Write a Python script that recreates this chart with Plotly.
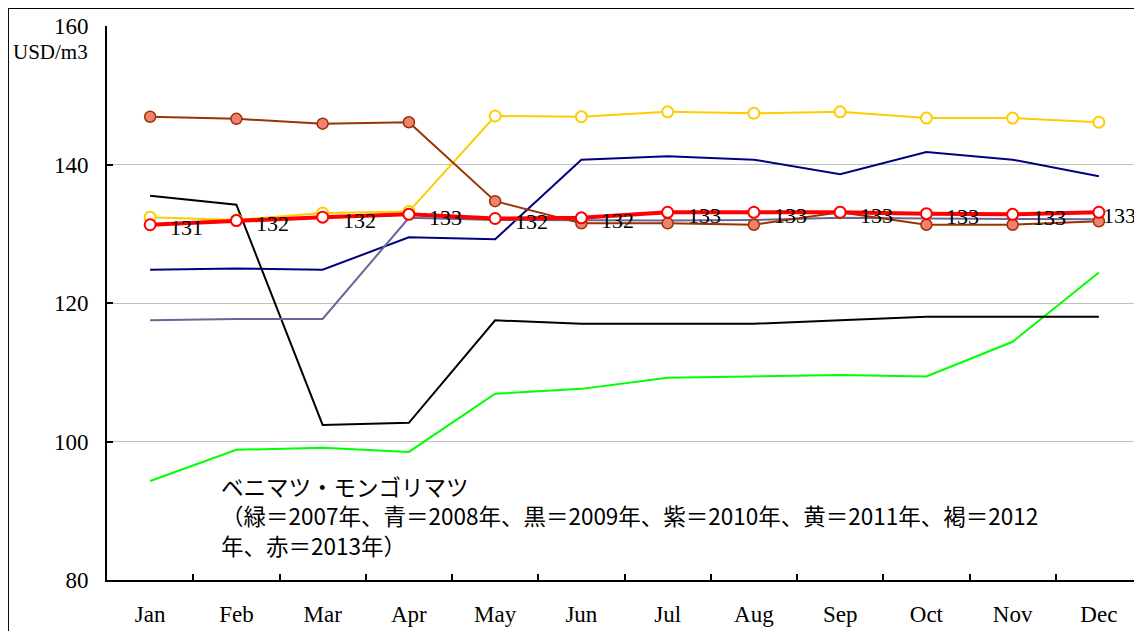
import plotly.graph_objects as go

months = ["Jan", "Feb", "Mar", "Apr", "May", "Jun", "Jul", "Aug", "Sep", "Oct", "Nov", "Dec"]

y2007 = [94.3, 98.8, 99.1, 98.5, 106.9, 107.6, 109.2, 109.4, 109.6, 109.4, 114.4, 124.4]
y2008 = [124.8, 125.0, 124.8, 129.5, 129.2, 140.7, 141.2, 140.7, 138.6, 141.8, 140.7, 138.3]
y2009 = [135.5, 134.2, 102.4, 102.7, 117.5, 117.0, 117.0, 117.0, 117.5, 118.0, 118.0, 118.0]
y2010 = [117.5, 117.7, 117.7, 132.3, 132.0, 131.9, 131.9, 132.0, 132.3, 132.2, 132.1, 132.1]
y2011 = [132.4, 132.0, 133.0, 133.2, 147.0, 146.9, 147.6, 147.4, 147.6, 146.7, 146.7, 146.1]
y2012 = [146.9, 146.6, 145.9, 146.1, 134.7, 131.5, 131.5, 131.3, 133.1, 131.3, 131.3, 131.8]
y2013 = [131.3, 131.9, 132.4, 132.8, 132.2, 132.3, 133.1, 133.1, 133.1, 132.9, 132.8, 133.1]

y_ticks = [80, 100, 120, 140, 160]
unit_label = "USD/m3"
note_text = ("ベニマツ・モンゴリマツ<br>"
             "（緑＝2007年、青＝2008年、黒＝2009年、紫＝2010年、黄＝2011年、褐＝2012<br>"
             "年、赤＝2013年）")

LAT = "Liberation Serif"
JP = "Noto Sans CJK JP"

fig = go.Figure()

def line(y, color, width=2, name=""):
    fig.add_trace(go.Scatter(x=months, y=y, mode="lines", name=name,
                             line=dict(color=color, width=width), cliponaxis=False))

line(y2007, "#00FF00", name="2007")
line(y2008, "#000080", name="2008")
line(y2009, "#000000", name="2009")
line(y2010, "#666699", name="2010")

fig.add_trace(go.Scatter(x=months, y=y2011, mode="lines+markers", name="2011",
                         line=dict(color="#FFCC00", width=2),
                         marker=dict(size=11, color="white", line=dict(color="#FFCC00", width=2)),
                         cliponaxis=False))
fig.add_trace(go.Scatter(x=months, y=y2012, mode="lines+markers", name="2012",
                         line=dict(color="#993300", width=2),
                         marker=dict(size=11, color="#F08070", line=dict(color="#993300", width=1.5)),
                         cliponaxis=False))
fig.add_trace(go.Scatter(x=months, y=y2013, mode="lines+markers", name="2013",
                         line=dict(color="#FF0000", width=4),
                         marker=dict(size=11, color="white", line=dict(color="#FF0000", width=2)),
                         cliponaxis=False))

# plot area: x 107..1142, y 26..580 in window pixels (page has 8px body margin)
annotations = [
    dict(text=unit_label, xref="paper", yref="paper", x=-0.016, y=(580 - 52) / 554,
         xanchor="right", yanchor="middle", showarrow=False,
         font=dict(family=LAT, size=21, color="black")),
    dict(text=note_text, xref="paper", yref="paper", x=(219 - 107) / 1035, y=(580 - 515) / 554,
         xanchor="left", yanchor="middle", align="left", showarrow=False,
         font=dict(family=JP, size=22.5, color="black")),
]
# data labels for 2013 series
n = len(months)
for i, (m, v) in enumerate(zip(months, y2013)):
    annotations.append(dict(text=str(round(v)), x=m, y=v, xref="x", yref="y",
                            xanchor="left", yanchor="middle",
                            xshift=(18 if i < n - 1 else 2), yshift=-3, showarrow=False,
                            font=dict(family=LAT, size=22, color="black")))

fig.update_layout(
    width=1134, height=623,
    margin=dict(l=99, r=0, t=18, b=51),
    paper_bgcolor="white", plot_bgcolor="white",
    showlegend=False,
    xaxis=dict(type="category", range=[-0.5, 11.5], showline=True, linecolor="black", linewidth=2,
               ticks="inside", tickson="boundaries", ticklen=6, tickwidth=1.5, tickcolor="black",
               showgrid=False, tickfont=dict(family=LAT, size=23, color="black"),
               ticklabelstandoff=12),
    yaxis=dict(range=[80, 160], tickvals=y_ticks, showline=True, linecolor="black", linewidth=2,
               ticks="inside", ticklen=6, tickwidth=1.5, tickcolor="black",
               showgrid=True, gridcolor="#C0C0C0", gridwidth=1, zeroline=False,
               tickfont=dict(family=LAT, size=23, color="black"), ticklabelstandoff=12),
    annotations=annotations,
    shapes=[dict(type="rect", xref="paper", yref="paper", x0=-0.0957, x1=0.998, y0=-0.2, y1=1.0325,
                 line=dict(color="black", width=2), layer="above")],
)

fig.write_html("out.html")
